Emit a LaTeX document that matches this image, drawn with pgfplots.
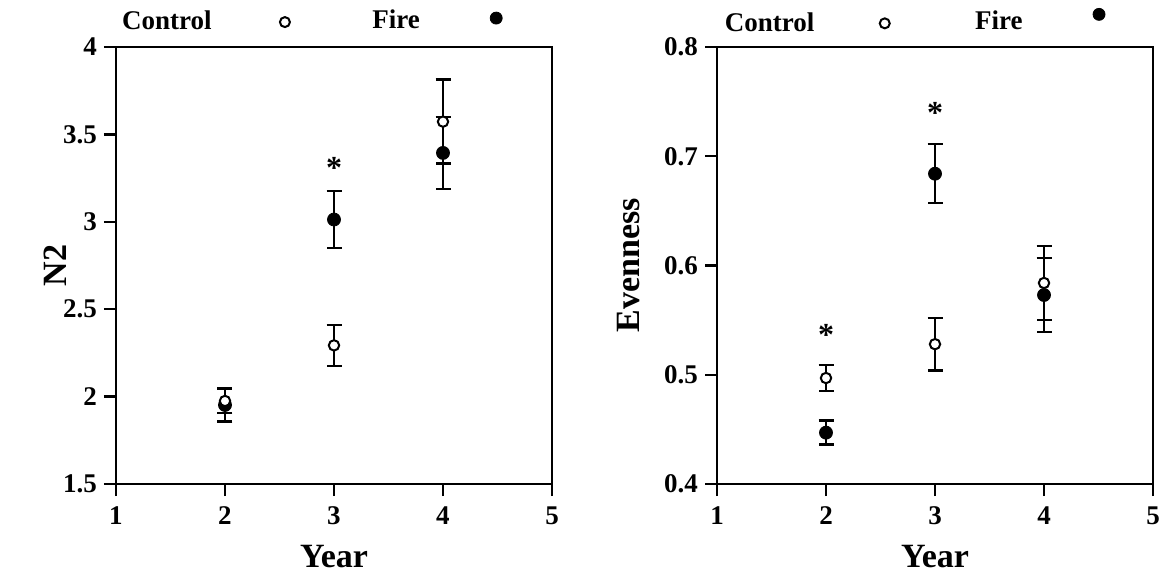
\documentclass[border=0pt]{standalone}
\usepackage{fontspec}
\setmainfont{Liberation Serif}
\usepackage{pgfplots}
\pgfplotsset{compat=1.18}

\pgfplotstableread{
x y e
2 1.975 0.068
3 2.293 0.118
4 3.573 0.240
}\ctrlN
\pgfplotstableread{
x y e
2 1.952 0.095
3 3.013 0.163
4 3.394 0.206
}\fireN
\pgfplotstableread{
x y e
2 0.497 0.012
3 0.528 0.024
4 0.584 0.034
}\ctrlE
\pgfplotstableread{
x y e
2 0.447 0.011
3 0.684 0.027
4 0.573 0.034
}\fireE

\tikzset{sigstar/.style={font=\fontsize{16}{16}\selectfont\bfseries, inner sep=0pt, anchor=center}}

\pgfplotsset{
  myax/.style={
    scale only axis, width=218pt, height=218.5pt,
    xmin=1, xmax=5, xtick={1,2,3,4,5},
    tick align=outside, xtick pos=left, ytick pos=left,
    major tick length=6pt,
    major tick style={line width=1.25pt, black},
    axis line style={line width=1.25pt},
    /pgf/number format/assume math mode=true,
    tick label style={font=\fontsize{13.5}{14}\selectfont\bfseries},
    xticklabel style={yshift=-2pt},
    label style={font=\fontsize{17}{18}\selectfont\bfseries},
    xlabel={Year},
    xlabel style={at={(axis description cs:0.5,-0.166)}, anchor=center},
    clip=false,
    legend style={draw=none, fill=none, inner sep=0pt, outer sep=0pt,
      legend columns=2, font=\fontsize{13.5}{14}\selectfont\bfseries,
      nodes={inner sep=0pt}, column sep=0pt},
    legend plot pos=right,
  },
  ebar/.style={draw=none, mark=none, forget plot,
    error bars/.cd, y dir=both, y explicit,
    error bar style={line width=1pt, draw=black},
    error mark options={rotate=90, mark size=3.75pt, line width=1.2pt, draw=black}},
  cmark/.style={only marks, forget plot, mark=*, mark size=2.6pt,
    mark options={fill=white, draw=black, line width=1pt}},
  fmark/.style={only marks, forget plot, mark=*, mark size=3.25pt,
    mark options={fill=black, draw=black}},
}

\begin{document}
\begin{tikzpicture}
\path[use as bounding box] (0,0) rectangle (581.5pt,289.5pt);

% Left panel
\begin{axis}[myax, at={(58pt,47.5pt)}, anchor=south west,
  ymin=1.5, ymax=4, ytick={1.5,2,2.5,3,3.5,4},
  yticklabels={1.5,2,2.5,3,3.5,4},
  ylabel={N2},
  ylabel style={at={(axis description cs:-0.14,0.5)}, anchor=center},
  legend style={at={(axis description cs:0.0138,1.057)}, anchor=west}]
\addlegendimage{legend image code/.code={\path (0pt,0pt) (80pt,0pt);
   \draw[black, line width=1pt, fill=white] (36.5pt,0pt) circle (2.5pt);}}
\addlegendentry{Control}
\addlegendimage{legend image code/.code={\path (0pt,0pt) (43pt,0pt);
   \fill[black] (38pt,2pt) circle (3pt);}}
\addlegendentry{\raisebox{1pt}{Fire}}
\addplot[ebar] table[x=x, y=y, y error=e] {\fireN};
\addplot[ebar] table[x=x, y=y, y error=e] {\ctrlN};
\addplot[fmark] table[x=x, y=y] {\fireN};
\addplot[cmark] table[x=x, y=y] {\ctrlN};
\node[sigstar] at (axis cs:3,3.308) {*};
\end{axis}

% Right panel
\begin{axis}[myax, at={(358.5pt,47.5pt)}, anchor=south west,
  ymin=0.4, ymax=0.8, ytick={0.4,0.5,0.6,0.7,0.8},
  yticklabels={0.4,0.5,0.6,0.7,0.8},
  ylabel={Evenness},
  ylabel style={at={(axis description cs:-0.204,0.5)}, anchor=center},
  legend style={at={(axis description cs:0.018,1.057)}, anchor=west}]
\addlegendimage{legend image code/.code={\path (0pt,0pt) (80pt,0pt);
   \draw[black, line width=1pt, fill=white] (35pt,0pt) circle (2.5pt);}}
\addlegendentry{Control}
\addlegendimage{legend image code/.code={\path (0pt,0pt) (43pt,0pt);
   \fill[black] (38pt,4.5pt) circle (3pt);}}
\addlegendentry{\raisebox{2pt}{Fire}}
\addplot[ebar] table[x=x, y=y, y error=e] {\fireE};
\addplot[ebar] table[x=x, y=y, y error=e] {\ctrlE};
\addplot[fmark] table[x=x, y=y] {\fireE};
\addplot[cmark] table[x=x, y=y] {\ctrlE};
\node[sigstar] at (axis cs:3,0.7394) {*};
\node[sigstar] at (axis cs:2,0.5367) {*};
\end{axis}
\end{tikzpicture}
\end{document}
